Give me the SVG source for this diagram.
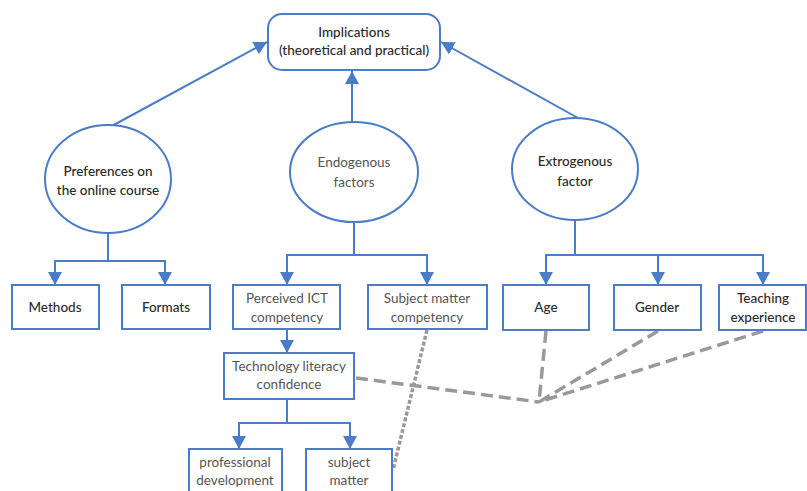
<svg xmlns="http://www.w3.org/2000/svg" width="807" height="491" viewBox="0 0 807 491">
<defs>
<marker id="ah" markerUnits="userSpaceOnUse" markerWidth="15" markerHeight="15" viewBox="0 0 15 15" refX="13" refY="7.5" orient="auto">
<path d="M0,0.5 L13,7.5 L0,14.5 Z" fill="#4a7cc7"/>
</marker>
<style>
.n{fill:#fff;stroke:#4a7cc7;stroke-width:2}
.c{fill:none;stroke:#4a7cc7;stroke-width:2}
.a{fill:none;stroke:#4a7cc7;stroke-width:2;marker-end:url(#ah)}
.d{fill:none;stroke:#999;stroke-width:3.5;stroke-dasharray:12 6}
.o{fill:none;stroke:#999;stroke-width:3.5;stroke-dasharray:4 2}
text{font-family:Lato,"Liberation Sans",sans-serif;font-size:13.5px;text-anchor:middle}
.k{fill:#2a2a2a;font-weight:500}
.l{fill:#555}
</style>
</defs>
<rect width="807" height="491" fill="#fff"/>
<g id="connectors">
<line class="a" x1="110" y1="127" x2="267" y2="42"/>
<line class="a" x1="578" y1="118" x2="441" y2="42"/>
<line class="a" x1="352" y1="122" x2="352" y2="71"/>
<path class="c" d="M108,233 V261 M55,261 H165"/>
<line class="a" x1="55" y1="260" x2="55" y2="285"/>
<line class="a" x1="165" y1="260" x2="165" y2="285"/>
<path class="c" d="M354,222 V255 M287,255 H427"/>
<line class="a" x1="287" y1="254" x2="287" y2="285"/>
<line class="a" x1="427" y1="254" x2="427" y2="285"/>
<line class="a" x1="287" y1="329" x2="287" y2="353"/>
<path class="c" d="M575,220 V255 M546,255 H763"/>
<line class="a" x1="546" y1="254" x2="546" y2="285"/>
<line class="a" x1="658" y1="254" x2="658" y2="285"/>
<line class="a" x1="763" y1="254" x2="763" y2="285"/>
<path class="c" d="M287,399 V423 M239,423 H350"/>
<line class="a" x1="239" y1="422" x2="239" y2="449"/>
<line class="a" x1="350" y1="422" x2="350" y2="449"/>
<path class="d" d="M356,378 L539,402 M546,331 L539,402 M658,331 L539,402 M763,331 L539,402"/>
<line class="o" x1="427" y1="330" x2="393" y2="470"/>
</g>
<g id="implications">
<rect class="n" x="268" y="14" width="172" height="56" rx="14"/>
<text class="k" x="354" y="37">Implications</text>
<text class="k" x="354" y="55">(theoretical and practical)</text>
</g>
<g id="preferences">
<ellipse class="n" cx="108" cy="179" rx="63" ry="54"/>
<text class="k" x="108" y="176">Preferences on</text>
<text class="k" x="108" y="195">the online course</text>
</g>
<g id="endogenous">
<ellipse class="n" cx="354" cy="172" rx="64" ry="50"/>
<text class="l" x="354" y="167">Endogenous</text>
<text class="l" x="354" y="187">factors</text>
</g>
<g id="extrogenous">
<ellipse class="n" cx="575" cy="169" rx="63" ry="51"/>
<text class="k" x="575" y="166">Extrogenous</text>
<text class="k" x="575" y="186">factor</text>
</g>
<g id="methods">
<rect class="n" x="12" y="285" width="87" height="44"/>
<text class="k" x="55" y="312">Methods</text>
</g>
<g id="formats">
<rect class="n" x="122" y="285" width="88" height="44"/>
<text class="k" x="166" y="312">Formats</text>
</g>
<g id="ict">
<rect class="n" x="233" y="285" width="107" height="44"/>
<text class="l" x="287" y="303">Perceived ICT</text>
<text class="l" x="287" y="322">competency</text>
</g>
<g id="subject-competency">
<rect class="n" x="368" y="285" width="119" height="44"/>
<text class="l" x="427" y="303">Subject matter</text>
<text class="l" x="427" y="322">competency</text>
</g>
<g id="technology">
<rect class="n" x="224" y="353" width="130" height="46"/>
<text class="l" x="289" y="371">Technology literacy</text>
<text class="l" x="289" y="389">confidence</text>
</g>
<g id="professional">
<rect class="n" x="189" y="449" width="93" height="50"/>
<text class="l" x="235" y="467">professional</text>
<text class="l" x="235" y="485">development</text>
</g>
<g id="subject-matter">
<rect class="n" x="306" y="449" width="86" height="50"/>
<text class="l" x="349" y="467">subject</text>
<text class="l" x="349" y="485">matter</text>
</g>
<g id="age">
<rect class="n" x="503" y="285" width="86" height="45"/>
<text class="k" x="546" y="312">Age</text>
</g>
<g id="gender">
<rect class="n" x="614" y="285" width="87" height="45"/>
<text class="k" x="657" y="312">Gender</text>
</g>
<g id="teaching">
<rect class="n" x="719" y="285" width="87" height="45"/>
<text class="k" x="763" y="303">Teaching</text>
<text class="k" x="763" y="322">experience</text>
</g>
</svg>
